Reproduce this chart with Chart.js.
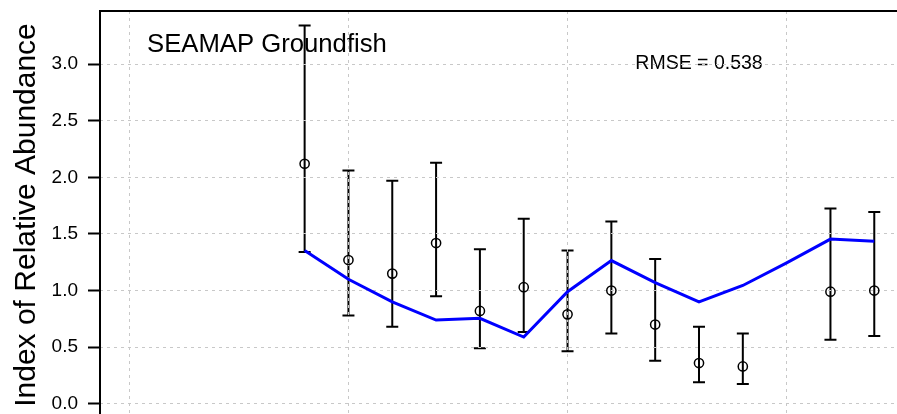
<!DOCTYPE html>
<html>
<head>
<meta charset="utf-8">
<script src="https://cdn.jsdelivr.net/npm/chart.js@4"></script>
<style>
  html, body { margin: 0; padding: 0; background: #fff; overflow: hidden; }
  #wrap { position: absolute; left: 0; top: 0; width: 941px; height: 419px; }
</style>
</head>
<body>
<div id="wrap"><canvas id="indexChart"></canvas></div>
<script>
const years = [1989, 1990, 1991, 1992, 1993, 1994, 1995, 1996, 1997, 1998, 1999, 2000, 2001, 2002];
const observed = [2.12, 1.27, 1.15, 1.42, 0.82, 1.03, 0.79, 1.00, 0.70, 0.36, 0.33, null, 0.99, 1.00];
const lowerCI = [1.34, 0.78, 0.68, 0.95, 0.49, 0.635, 0.465, 0.62, 0.38, 0.19, 0.175, null, 0.565, 0.60];
const upperCI = [3.34, 2.06, 1.97, 2.13, 1.365, 1.635, 1.355, 1.61, 1.28, 0.68, 0.62, null, 1.725, 1.695];
const predicted = [1.355, 1.10, 0.90, 0.74, 0.755, 0.59, 0.99, 1.265, 1.07, 0.90, 1.045, 1.245, 1.455, 1.435];
const yTicks = [0, 0.5, 1, 1.5, 2, 2.5, 3];
const xGridYears = [1985, 1990, 1995, 2000];

const FONT = '"Liberation Sans", Arial, Helvetica, sans-serif';

// error bars and labels go under the grid, like the original plot
const errorBars = {
    id: 'errorBars',
    beforeDraw(chart) {
        const { ctx, chartArea, scales: { x, y } } = chart;
        ctx.save();
        ctx.strokeStyle = '#000';
        ctx.lineWidth = 2;
        years.forEach((yr, i) => {
            if (observed[i] === null) return;
            const px = x.getPixelForValue(yr);
            const top = y.getPixelForValue(upperCI[i]);
            const bot = y.getPixelForValue(lowerCI[i]);
            ctx.beginPath();
            ctx.moveTo(px, top); ctx.lineTo(px, bot);
            ctx.moveTo(px - 6, top); ctx.lineTo(px + 6, top);
            ctx.moveTo(px - 6, bot); ctx.lineTo(px + 6, bot);
            ctx.stroke();
        });

        ctx.fillStyle = '#000';
        ctx.font = '25.7px ' + FONT;
        ctx.textAlign = 'left';
        ctx.textBaseline = 'alphabetic';
        ctx.fillText('SEAMAP Groundfish', chartArea.left + 47, chartArea.top + 41);

        ctx.font = '19.5px ' + FONT;
        ctx.textAlign = 'center';
        ctx.textBaseline = 'middle';
        ctx.fillText('RMSE = 0.538', x.getPixelForValue(1998), y.getPixelForValue(3.0));
        ctx.restore();
    },
    afterDraw(chart) {
        const { ctx, chartArea } = chart;
        ctx.save();
        ctx.strokeStyle = '#000';
        ctx.lineWidth = 2;
        ctx.strokeRect(chartArea.left, chartArea.top, chartArea.right - chartArea.left, chartArea.bottom - chartArea.top);
        ctx.restore();
    }
};

const ctx = document.getElementById('indexChart').getContext('2d');
new Chart(ctx, {
    type: 'line',
    data: {
        datasets: [
            {
                label: 'Predicted',
                data: years.map((yr, i) => ({ x: yr, y: predicted[i] })),
                borderColor: '#0000ff',
                borderWidth: 3,
                pointRadius: 0,
                tension: 0,
                fill: false,
            },
            {
                type: 'scatter',
                label: 'Observed',
                data: years.map((yr, i) => ({ x: yr, y: observed[i] })).filter(d => d.y !== null),
                pointStyle: 'circle',
                pointRadius: 4.6,
                pointBorderWidth: 1.5,
                borderColor: '#000',
                backgroundColor: 'rgba(0,0,0,0)',
                showLine: false,
            },
        ],
    },
    options: {
        responsive: true,
        maintainAspectRatio: false,
        animation: false,
        layout: { autoPadding: false, padding: { top: 11, left: 0, right: 1, bottom: 0 } },
        plugins: {
            legend: { display: false },
            tooltip: { enabled: false },
        },
        scales: {
            x: {
                type: 'linear',
                min: 1984.33,
                max: 2003.5,
                afterBuildTicks: s => { s.ticks = xGridYears.map(v => ({ value: v })); },
                afterFit: s => { s.height = 0; s.paddingLeft = 0; s.paddingRight = 0; },
                ticks: { display: false },
                grid: { color: '#c8c8c8', lineWidth: 1, drawTicks: false },
                border: { display: false, dash: [3, 4] },
            },
            y: {
                min: -0.134,
                max: 3.469,
                afterBuildTicks: s => { s.ticks = yTicks.map(v => ({ value: v })); },
                afterFit: s => { s.width = 100; s.paddingTop = 0; s.paddingBottom = 0; },
                ticks: {
                    color: '#000',
                    font: { size: 19, family: FONT },
                    padding: 10,
                    callback: v => v.toFixed(1),
                },
                grid: { color: '#c8c8c8', lineWidth: 1, tickColor: '#000', tickWidth: 2, tickLength: 12 },
                border: { display: false, dash: [3, 4] },
                title: {
                    display: true,
                    text: 'Index of Relative Abundance',
                    color: '#000',
                    font: { size: 30, family: FONT },
                    padding: { top: 9, bottom: 0 },
                },
            },
        },
    },
    plugins: [errorBars],
});
</script>
</body>
</html>
